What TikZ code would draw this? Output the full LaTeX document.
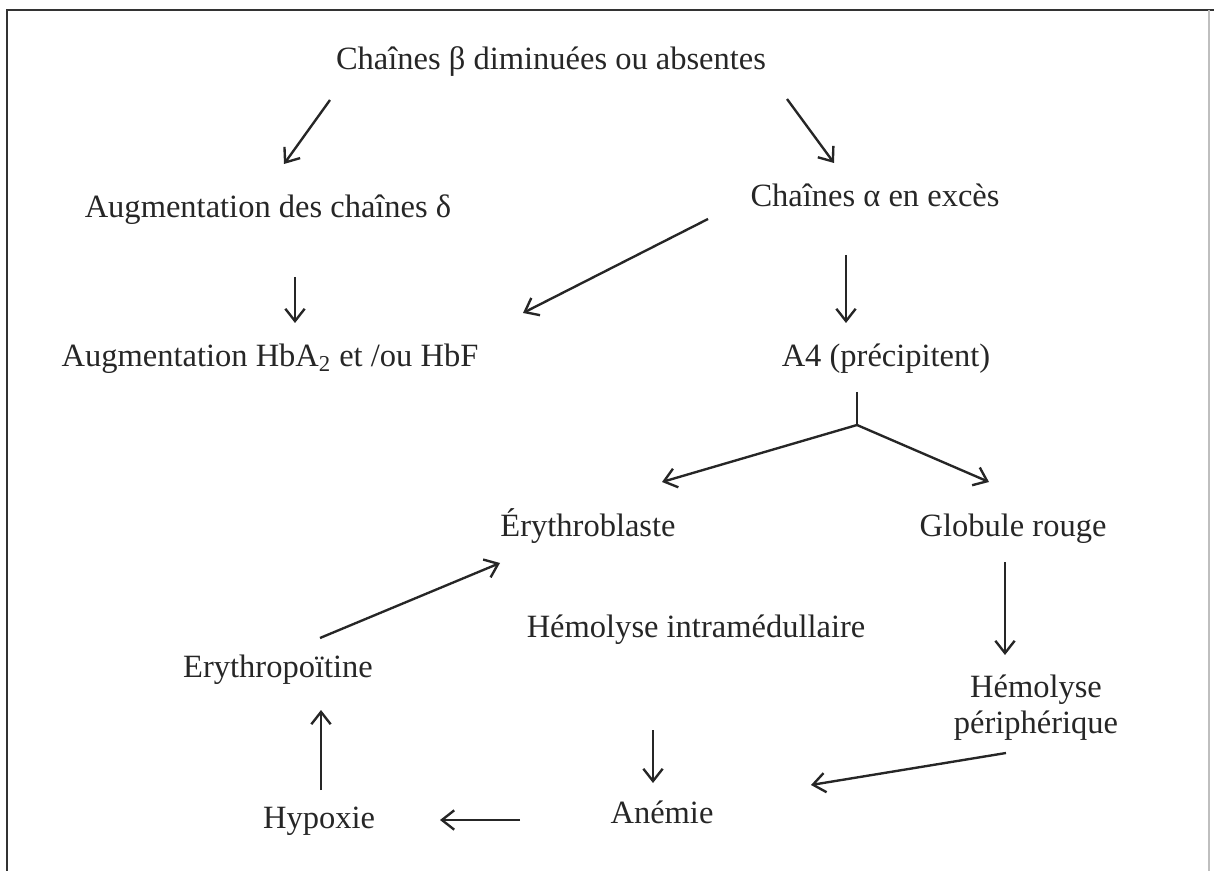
\documentclass[tikz,border=0pt]{standalone}
\usepackage{fontspec}
\setmainfont{Liberation Serif}
\usetikzlibrary{arrows.meta, positioning}
\tikzset{
    label/.style={anchor=base, inner sep=0pt, text=black!85, font=\fontsize{18.5}{20}\selectfont},
    line/.style={draw=black!85, line width=1.35pt, -{Straight Barb[length=7pt, width=11pt, line width=1.35pt]}},
    frame/.style={draw=black!80, line width=0.9pt}
}

\begin{document}
\begin{tikzpicture}[x=0.02cm, y=-0.02cm]
    \useasboundingbox (0,0) rectangle (1214,871);

    % Frame
    \draw [frame] (7,871) -- (7,10) -- (1214,10);
    \draw [draw=black!25, line width=0.7pt] (1209,10) -- (1209,871);

    % Top of the chain
    \node [label] (beta) at (551,70) {Chaînes β diminuées ou absentes};
    \node [label] (delta) at (268,218) {Augmentation des chaînes δ};
    \node [label] (alpha) at (875,207) {Chaînes α en excès};
    \node [label] (hba) at (270,367) {Augmentation HbA\textsubscript{2} et /ou HbF};
    \node [label] (prec) at (886,367) {A4 (précipitent)};
    \draw [line] ([shift={(-221,30)}]beta.base) -- ([shift={(16,-54)}]delta.base);
    \draw [line] ([shift={(236,29)}]beta.base) -- ([shift={(-41,-44)}]alpha.base);
    \draw [line] ([shift={(27,59)}]delta.base) -- ([shift={(25,-44)}]hba.base);
    \draw [line] ([shift={(-167,12)}]alpha.base) -- ([shift={(253,-54)}]hba.base);
    \draw [line] ([shift={(-29,48)}]alpha.base) -- ([shift={(-40,-44)}]prec.base);

    % Split
    \node [label] (eryb) at (588,537) {Érythroblaste};
    \node [label] (globule) at (1013,537) {Globule rouge};
    \coordinate (split) at (857,425);
    \draw [line, -] ([shift={(-29,25)}]prec.base) -- (split);
    \draw [line] (split) -- ([shift={(74,-55)}]eryb.base);
    \draw [line] (split) -- ([shift={(-24,-55)}]globule.base);

    % Bottom loop
    \node [label] (intra) at (696,637) {Hémolyse intramédullaire};
    \node [label] (epo) at (278,677) {Erythropoïtine};
    \node [label, align=center] (peri) at (1036,733) {Hémolyse\\périphérique};
    \node [label] (anemie) at (662,823) {Anémie};
    \node [label] (hypox) at (319,828) {Hypoxie};
    \draw [line] ([shift={(42,-39)}]epo.base) -- ([shift={(-88,26)}]eryb.base);
    \draw [line] ([shift={(2,-38)}]hypox.base) -- ([shift={(43,33)}]epo.base);
    \draw [line] ([shift={(-43,93)}]intra.base) -- ([shift={(-9,-40)}]anemie.base);
    \draw [line] ([shift={(-142,-3)}]anemie.base) -- ([shift={(121,-8)}]hypox.base);
    \draw [line] ([shift={(-8,25)}]globule.base) -- ([shift={(-31,-78)}]peri.base);
    \draw [line] ([shift={(-30,20)}]peri.base) -- ([shift={(149,-38)}]anemie.base);

\end{tikzpicture}
\end{document}
